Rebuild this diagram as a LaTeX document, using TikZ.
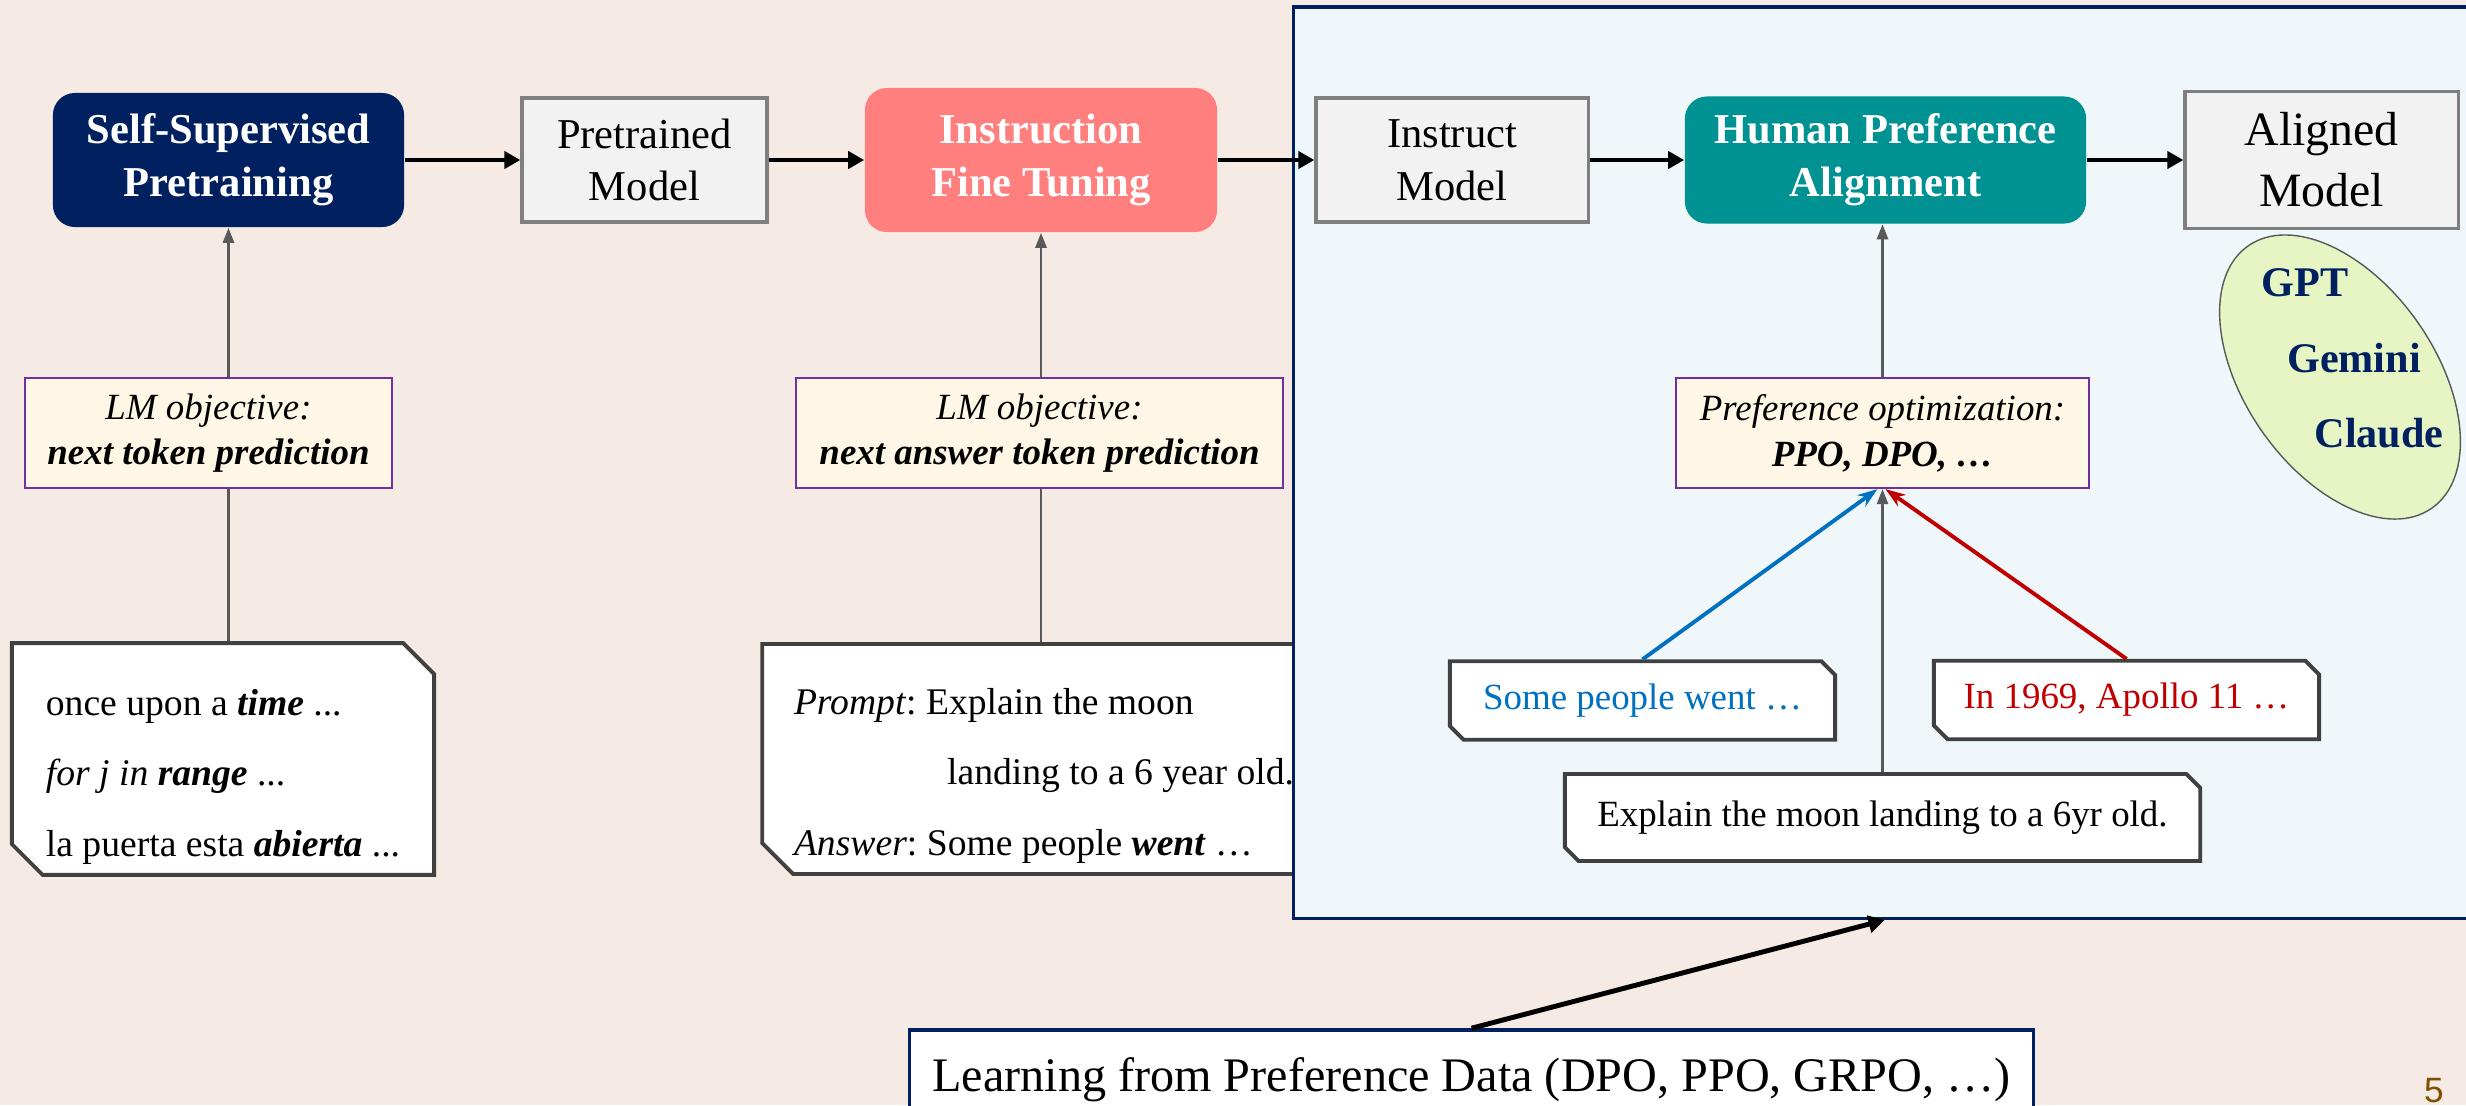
\documentclass[tikz,border=0pt]{standalone}
\usepackage{fontspec}
\setmainfont{Liberation Serif}
\newfontfamily\numfont{Liberation Sans}
\usepackage{xcolor}
\usepackage{tikz}
\usetikzlibrary{arrows.meta,shapes.misc}
\definecolor{paper}{HTML}{F6EAE5}
\definecolor{navy}{HTML}{002060}
\definecolor{salmon}{HTML}{FF7F7F}
\definecolor{tealbox}{HTML}{009193}
\definecolor{panelbg}{HTML}{F0F7FA}
\definecolor{modelbg}{HTML}{F2F2F2}
\definecolor{modeledge}{HTML}{7F7F7F}
\definecolor{objbg}{HTML}{FFF7E6}
\definecolor{objedge}{HTML}{7030A0}
\definecolor{boxedge}{HTML}{404040}
\definecolor{wire}{HTML}{595959}
\definecolor{goodblue}{HTML}{0070C0}
\definecolor{badred}{HTML}{C00000}
\definecolor{llmfill}{HTML}{E6F5C3}
\definecolor{pagenum}{HTML}{7F4F00}

\begin{document}
\frenchspacing
\begin{tikzpicture}[x=0.01cm,y=-0.01cm,>=stealth,
  stage/.style={rounded corners=0.22cm,align=center,text=white,font=\fontsize{12.1}{15}\selectfont\bfseries},
  model/.style={draw=modeledge,fill=modelbg,line width=0.9pt,minimum height=1.24cm,align=center,font=\fontsize{12.1}{15}\selectfont},
  objective/.style={draw=objedge,fill=objbg,line width=0.6pt,minimum height=1.1cm,align=center,font=\fontsize{10.5}{13}\selectfont},
  sample/.style={chamfered rectangle,chamfered rectangle corners={north east,south west},chamfered rectangle xsep=0.03cm,
    draw=boxedge,fill=white,line width=1.1pt,font=\fontsize{10.5}{13}\selectfont},
  textbox/.style={sample,chamfered rectangle xsep=0.2cm,inner ysep=0pt,minimum height=2.22cm,align=left,font=\fontsize{10.7}{20}\selectfont},
  llm/.style={text=navy,font=\fontsize{12}{14}\selectfont\bfseries},
  flow/.style={-{Triangle[length=0.16cm,width=0.17cm]},line width=1.4pt},
  feed/.style={wire,line width=0.75pt},
  pick/.style={#1,-{Stealth[length=0.2cm,width=0.14cm]},line width=1.1pt}]
  \fill[paper] (0,0) rectangle (2466,1105);
  \useasboundingbox (0,0) rectangle (2466,1105);

  \node[textbox,minimum width=5.6cm] (txtB) at (1044,759)
    {\rule{0pt}{17pt}\textit{Prompt}: Explain the moon\\\hspace*{1.53cm}landing to a 6 year old.\\\textit{Answer}: Some people \textbf{\textit{went}} …};
  \node[draw=navy,fill=panelbg,line width=1pt,minimum width=11.81cm,minimum height=9.11cm] (panel) at (1884.5,462.5) {};

  \node[stage,fill=navy,minimum width=3.51cm,minimum height=1.34cm] (ssp) at (228.5,160) {Self-Supervised\\Pretraining};
  \node[model,minimum width=2.45cm] (ptm) at (644.5,160) {Pretrained\\Model};
  \node[stage,fill=salmon,minimum width=3.52cm,minimum height=1.44cm] (ift) at (1041,160) {Instruction\\Fine Tuning};
  \node[model,minimum width=2.72cm] (ism) at (1452,160) {Instruct\\Model};
  \node[stage,fill=tealbox,minimum width=4.01cm,minimum height=1.27cm] (hpa) at (1885.5,160) {Human Preference\\Alignment};
  \node[model,minimum width=2.73cm,minimum height=1.37cm,font=\fontsize{13.6}{17.4}\selectfont] (alm) at (2321.5,160) {Aligned\\Model};

  \node[objective,minimum width=3.67cm] (objA) at (208.5,433) {\textit{LM objective:}\\\textbf{\textit{next token prediction}}};
  \node[objective,minimum width=4.87cm] (objB) at (1039.5,433) {\textit{LM objective:}\\\textbf{\textit{next answer token prediction}}};
  \node[objective,minimum width=4.13cm] (objC) at (1882.5,433) {\textit{Preference optimization:}\\\textbf{\textit{PPO, DPO, …}}};

  \node[textbox,minimum width=4.22cm] (txtA) at (223,759)
    {\rule{0pt}{17.5pt}once upon a \textbf{\textit{time}} ...\\\textit{for j in} \textbf{\textit{range}} ...\\la puerta esta \textbf{\textit{abierta}} ...};
  \node[sample,minimum width=3.85cm,minimum height=0.77cm,text=goodblue] (good) at (1642.5,700.5) {Some people went …};
  \node[sample,minimum width=3.85cm,minimum height=0.76cm,text=badred] (bad) at (2126.5,700) {In 1969, Apollo 11 …};
  \node[sample,minimum width=6.35cm,minimum height=0.87cm] (qry) at (1882.5,817.5) {Explain the moon landing to a 6yr old.};

  \node[draw=navy,fill=white,line width=1pt,minimum width=11.23cm,minimum height=1.0cm,font=\fontsize{13.7}{16}\selectfont] (prefdata) at (1471.5,1080)
    {Learning from Preference Data (DPO, PPO, GRPO, …)};

  \draw[wire,fill=llmfill,thin,rotate around={-55:(2340,377)}] (2340,377) ellipse [x radius=1.6cm,y radius=0.95cm];
  \node[llm] (gpt) at (2305,283) {GPT};
  \node[llm] (gem) at (2354,358) {Gemini};
  \node[llm] (cla) at (2379,433) {Claude};

  \node[text=pagenum,font=\numfont\fontsize{10}{12}\selectfont,anchor=base] (pnum) at (2434,1102) {5};

  \draw[flow] (ssp.east) -- (ptm.west);
  \draw[flow] (ptm.east) -- (ift.west);
  \draw[flow] (ift.east) -- (ism.west);
  \draw[flow] (ism.east) -- (hpa.west);
  \draw[flow] (hpa.east) -- (alm.west);
  \draw[flow] (prefdata.north) -- (panel.south);

  \draw[feed] (txtA.north -| ssp) -- (objA.south -| ssp);
  \draw[feed,-{Triangle[length=0.15cm,width=0.11cm]}] (objA.north -| ssp) -- (ssp.south);
  \draw[feed] (txtB.north -| ift) -- (objB.south -| ift);
  \draw[feed,-{Triangle[length=0.15cm,width=0.11cm]}] (objB.north -| ift) -- (ift.south);
  \draw[feed,-{Triangle[length=0.15cm,width=0.11cm]}] (qry.north) -- (objC.south);
  \draw[feed,-{Triangle[length=0.15cm,width=0.11cm]}] (objC.north) -- (objC.north |- hpa.south);
  \draw[pick=goodblue] (good.north) -- ([xshift=-0.05cm]objC.south);
  \draw[pick=badred] (bad.north) -- ([xshift=0.03cm]objC.south);
\end{tikzpicture}
\end{document}
